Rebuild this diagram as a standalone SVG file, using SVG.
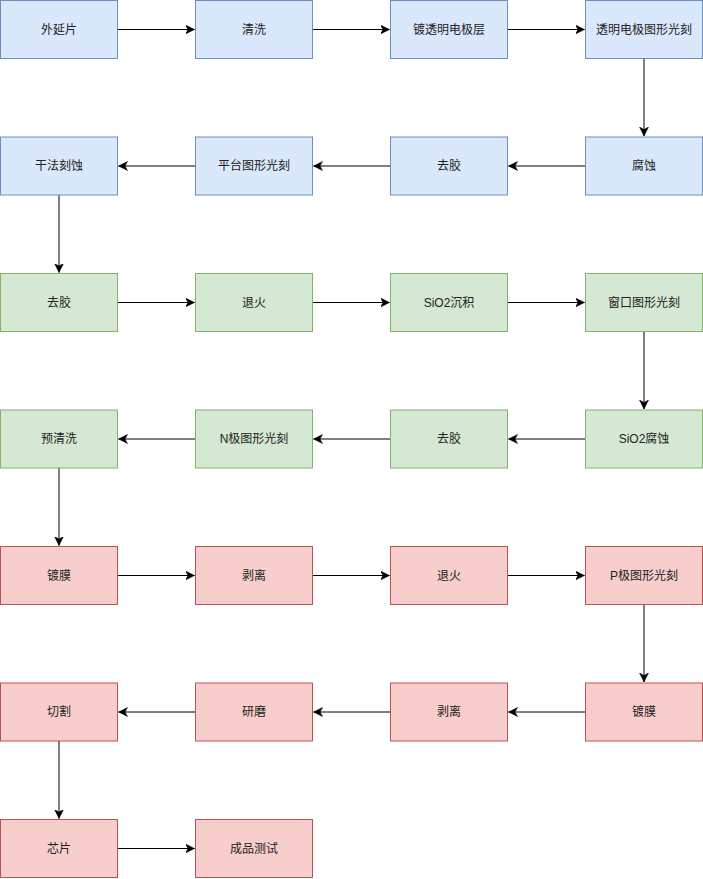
<svg xmlns="http://www.w3.org/2000/svg" width="703" height="879" viewBox="0 0 703 879">
<style>
rect{stroke-width:1}
.b rect{fill:#dae8fc;stroke:#6c8ebf}
.g rect{fill:#d5e8d4;stroke:#82b366}
.r rect{fill:#f8cecc;stroke:#b85450}
text{font-family:"Liberation Sans","Noto Sans CJK SC",sans-serif;font-size:12px;fill:#222;text-anchor:middle;dominant-baseline:central}
#edges path{fill:none;stroke:#000;stroke-width:1;marker-end:url(#arr)}
</style>
<defs>
<marker id="arr" markerUnits="userSpaceOnUse" markerWidth="12" markerHeight="10" refX="9" refY="4.5" orient="auto">
<path d="M0,0 L9,4.5 L0,9 L2.5,4.5 z" fill="#000" stroke="#000" stroke-width="0.5"/>
</marker>
</defs>
<rect width="703" height="879" fill="#fff"/>
<g id="edges">
<path d="M117.5,29.5 H194.5"/>
<path d="M312.5,29.5 H389.5"/>
<path d="M507.5,29.5 H584.5"/>
<path d="M644,58.5 V136"/>
<path d="M585.5,166 H508.5"/>
<path d="M390.5,166 H313.5"/>
<path d="M195.5,166 H118.5"/>
<path d="M59,195 V272.5"/>
<path d="M117.5,302.5 H194.5"/>
<path d="M312.5,302.5 H389.5"/>
<path d="M507.5,302.5 H584.5"/>
<path d="M644,331.5 V409"/>
<path d="M585.5,439 H508.5"/>
<path d="M390.5,439 H313.5"/>
<path d="M195.5,439 H118.5"/>
<path d="M59,468 V545.5"/>
<path d="M117.5,575.5 H194.5"/>
<path d="M312.5,575.5 H389.5"/>
<path d="M507.5,575.5 H584.5"/>
<path d="M644,604.5 V682"/>
<path d="M585.5,712 H508.5"/>
<path d="M390.5,712 H313.5"/>
<path d="M195.5,712 H118.5"/>
<path d="M59,741 V818.5"/>
<path d="M117.5,848.5 H194.5"/>
</g>
<g id="n1" class="b"><rect x="0.5" y="0.5" width="117" height="58"/><text x="59" y="29.5">外延片</text></g>
<g id="n2" class="b"><rect x="195.5" y="0.5" width="117" height="58"/><text x="254" y="29.5">清洗</text></g>
<g id="n3" class="b"><rect x="390.5" y="0.5" width="117" height="58"/><text x="449" y="29.5">镀透明电极层</text></g>
<g id="n4" class="b"><rect x="585.5" y="0.5" width="117" height="58"/><text x="644" y="29.5">透明电极图形光刻</text></g>
<g id="n5" class="b"><rect x="585.5" y="137" width="117" height="58"/><text x="644" y="166">腐蚀</text></g>
<g id="n6" class="b"><rect x="390.5" y="137" width="117" height="58"/><text x="449" y="166">去胶</text></g>
<g id="n7" class="b"><rect x="195.5" y="137" width="117" height="58"/><text x="254" y="166">平台图形光刻</text></g>
<g id="n8" class="b"><rect x="0.5" y="137" width="117" height="58"/><text x="59" y="166">干法刻蚀</text></g>
<g id="n9" class="g"><rect x="0.5" y="273.5" width="117" height="58"/><text x="59" y="302.5">去胶</text></g>
<g id="n10" class="g"><rect x="195.5" y="273.5" width="117" height="58"/><text x="254" y="302.5">退火</text></g>
<g id="n11" class="g"><rect x="390.5" y="273.5" width="117" height="58"/><text x="449" y="302.5">SiO2沉积</text></g>
<g id="n12" class="g"><rect x="585.5" y="273.5" width="117" height="58"/><text x="644" y="302.5">窗口图形光刻</text></g>
<g id="n13" class="g"><rect x="585.5" y="410" width="117" height="58"/><text x="644" y="439">SiO2腐蚀</text></g>
<g id="n14" class="g"><rect x="390.5" y="410" width="117" height="58"/><text x="449" y="439">去胶</text></g>
<g id="n15" class="g"><rect x="195.5" y="410" width="117" height="58"/><text x="254" y="439">N极图形光刻</text></g>
<g id="n16" class="g"><rect x="0.5" y="410" width="117" height="58"/><text x="59" y="439">预清洗</text></g>
<g id="n17" class="r"><rect x="0.5" y="546.5" width="117" height="58"/><text x="59" y="575.5">镀膜</text></g>
<g id="n18" class="r"><rect x="195.5" y="546.5" width="117" height="58"/><text x="254" y="575.5">剥离</text></g>
<g id="n19" class="r"><rect x="390.5" y="546.5" width="117" height="58"/><text x="449" y="575.5">退火</text></g>
<g id="n20" class="r"><rect x="585.5" y="546.5" width="117" height="58"/><text x="644" y="575.5">P极图形光刻</text></g>
<g id="n21" class="r"><rect x="585.5" y="683" width="117" height="58"/><text x="644" y="712">镀膜</text></g>
<g id="n22" class="r"><rect x="390.5" y="683" width="117" height="58"/><text x="449" y="712">剥离</text></g>
<g id="n23" class="r"><rect x="195.5" y="683" width="117" height="58"/><text x="254" y="712">研磨</text></g>
<g id="n24" class="r"><rect x="0.5" y="683" width="117" height="58"/><text x="59" y="712">切割</text></g>
<g id="n25" class="r"><rect x="0.5" y="819.5" width="117" height="58"/><text x="59" y="848.5">芯片</text></g>
<g id="n26" class="r"><rect x="195.5" y="819.5" width="117" height="58"/><text x="254" y="848.5">成品测试</text></g>
</svg>
